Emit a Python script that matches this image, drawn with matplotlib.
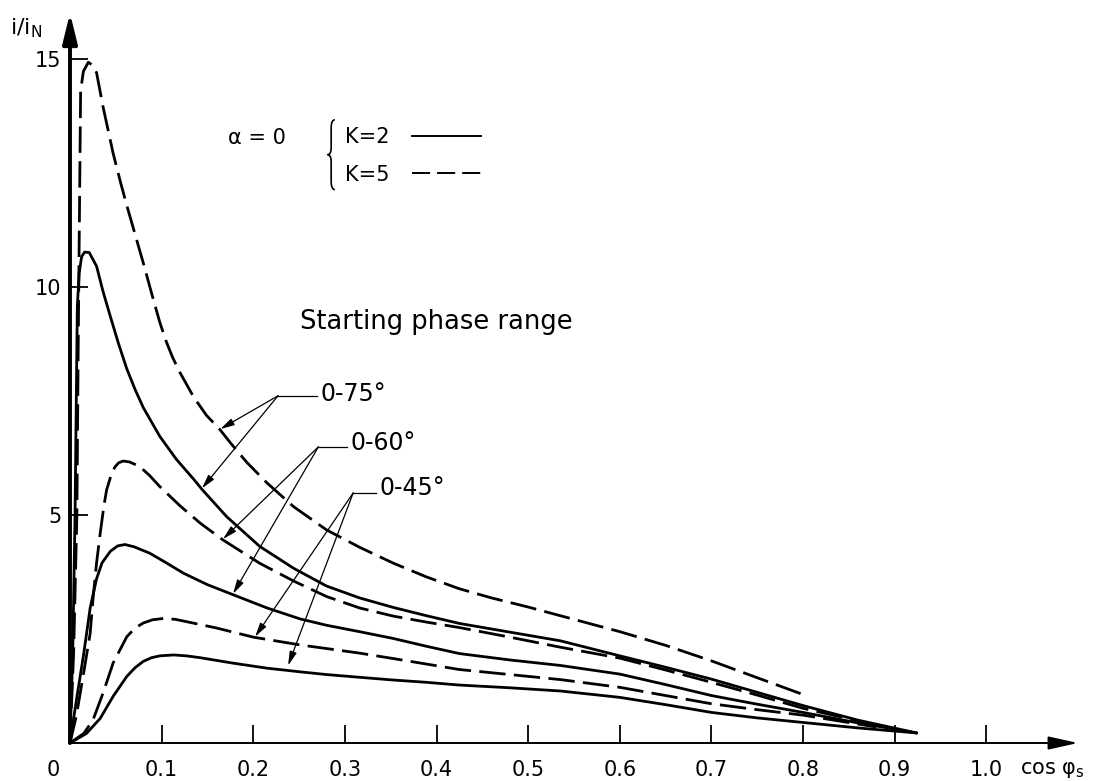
#Starting current vs cos phi for different starting phase ranges
import numpy as np
import matplotlib
matplotlib.use('Agg')
import matplotlib.pyplot as plt
from matplotlib.lines import Line2D
from matplotlib.path import Path
from matplotlib.patches import PathPatch

#curves, K=5 dashed, K=2 solid
x_k5_75 = [0, 0.004, 0.0075, 0.009, 0.0105, 0.0116, 0.0146, 0.020, 0.025, 0.029, 0.036, 0.047, 0.055, 0.062,
           0.071, 0.080, 0.089, 0.098, 0.105, 0.112, 0.120, 0.135, 0.149, 0.164, 0.175, 0.193, 0.215, 0.244,
           0.280, 0.316, 0.353, 0.389, 0.425, 0.460, 0.500, 0.535, 0.600, 0.650, 0.700, 0.750, 0.803]
y_k5_75 = [0, 2.0, 5.0, 8.8, 12.0, 14.3, 14.72, 14.92, 14.85, 14.69, 13.95, 12.93, 12.3, 11.78,
           11.15, 10.52, 9.86, 9.22, 8.80, 8.45, 8.12, 7.58, 7.18, 6.86, 6.58, 6.15, 5.70, 5.18,
           4.67, 4.29, 3.94, 3.64, 3.38, 3.18, 2.98, 2.79, 2.44, 2.14, 1.80, 1.43, 1.04]

x_k2_75 = [0, 0.003, 0.0055, 0.008, 0.010, 0.0127, 0.016, 0.021, 0.029, 0.036, 0.044, 0.053, 0.062, 0.071,
           0.080, 0.098, 0.116, 0.135, 0.144, 0.171, 0.207, 0.244, 0.280, 0.316, 0.353, 0.389, 0.425, 0.480,
           0.535, 0.600, 0.650, 0.700, 0.750, 0.800, 0.860, 0.924]
y_k2_75 = [0, 2.0, 5.0, 9.57, 10.3, 10.66, 10.76, 10.75, 10.45, 9.90, 9.35, 8.75, 8.20, 7.75,
           7.35, 6.72, 6.22, 5.78, 5.56, 4.96, 4.31, 3.83, 3.44, 3.18, 2.97, 2.79, 2.62, 2.43,
           2.24, 1.91, 1.66, 1.40, 1.11, 0.82, 0.50, 0.22]

x_k5_60 = [0, 0.007, 0.016, 0.022, 0.025, 0.029, 0.033, 0.037, 0.040, 0.045, 0.049, 0.053, 0.058, 0.065, 0.076,
           0.087, 0.098, 0.120, 0.142, 0.167, 0.207, 0.244, 0.280, 0.316, 0.353, 0.389, 0.425, 0.480, 0.535,
           0.600, 0.650, 0.700, 0.750, 0.800, 0.870]
y_k5_60 = [0, 0.6, 1.67, 2.4, 3.14, 3.95, 4.6, 5.2, 5.55, 5.88, 6.05, 6.14, 6.18, 6.16, 6.06,
           5.86, 5.62, 5.2, 4.82, 4.45, 3.94, 3.55, 3.21, 2.96, 2.78, 2.65, 2.53, 2.32, 2.10,
           1.86, 1.60, 1.33, 1.05, 0.76, 0.44]

x_k2_60 = [0, 0.007, 0.015, 0.022, 0.029, 0.035, 0.044, 0.052, 0.060, 0.070, 0.087, 0.105, 0.124, 0.150, 0.178,
           0.215, 0.251, 0.280, 0.316, 0.353, 0.389, 0.425, 0.480, 0.535, 0.600, 0.650, 0.700, 0.750, 0.800,
           0.860, 0.924]
y_k2_60 = [0, 0.94, 1.96, 2.96, 3.6, 3.95, 4.2, 4.32, 4.35, 4.30, 4.16, 3.95, 3.72, 3.47, 3.25,
           2.96, 2.72, 2.58, 2.44, 2.29, 2.12, 1.96, 1.82, 1.70, 1.51, 1.28, 1.04, 0.85, 0.67,
           0.44, 0.22]

x_k5_45 = [0, 0.015, 0.025, 0.036, 0.047, 0.062, 0.071, 0.080, 0.090, 0.102, 0.115, 0.127, 0.160, 0.200, 0.251,
           0.280, 0.316, 0.353, 0.389, 0.425, 0.480, 0.535, 0.600, 0.650, 0.700, 0.750, 0.800, 0.880]
y_k5_45 = [0, 0.21, 0.50, 1.09, 1.75, 2.33, 2.52, 2.63, 2.70, 2.73, 2.71, 2.66, 2.52, 2.32, 2.15,
           2.07, 1.97, 1.85, 1.73, 1.61, 1.50, 1.39, 1.22, 1.04, 0.86, 0.73, 0.61, 0.35]

x_k2_45 = [0, 0.018, 0.033, 0.047, 0.062, 0.071, 0.080, 0.089, 0.098, 0.113, 0.127, 0.142, 0.178, 0.215, 0.251,
           0.280, 0.316, 0.353, 0.389, 0.425, 0.480, 0.535, 0.600, 0.650, 0.700, 0.750, 0.800, 0.860, 0.924]
y_k2_45 = [0, 0.21, 0.54, 1.02, 1.46, 1.65, 1.79, 1.87, 1.91, 1.93, 1.91, 1.87, 1.75, 1.64, 1.56,
           1.50, 1.44, 1.38, 1.33, 1.27, 1.21, 1.14, 1.00, 0.84, 0.67, 0.55, 0.45, 0.33, 0.22]

xticks = [0.1, 0.2, 0.3, 0.4, 0.5, 0.6, 0.7, 0.8, 0.9, 1.0]
xticklabels = ['0.1', '0.2', '0.3', '0.4', '0.5', '0.6', '0.7', '0.8', '0.9', '1.0']
yticks = [5, 10, 15]

#phase range labels: label, leader start, text pos, arrow targets
ranges = ['0-75°', '0-60°', '0-45°']
nodes = [(0.227, 7.61), (0.271, 6.49), (0.309, 5.48)]
label_pos = [(0.273, 7.66), (0.306, 6.58), (0.338, 5.58)]
targets = [[(0.164, 6.88), (0.144, 5.58)],
           [(0.167, 4.47), (0.178, 3.27)],
           [(0.202, 2.33), (0.238, 1.70)]]

dash = (0, (9.5, 3))
fig = plt.figure(figsize=(11.01, 7.81), dpi=100)
ax = fig.add_axes([70/1101, 38/781, 1008/1101, 730/781])
ax.set_xlim(0, 1.1)
ax.set_ylim(0, 16.0)
for s in ax.spines.values():
    s.set_visible(False)

curves = [(x_k5_75, y_k5_75, dash), (x_k2_75, y_k2_75, '-'),
          (x_k5_60, y_k5_60, dash), (x_k2_60, y_k2_60, '-'),
          (x_k5_45, y_k5_45, dash), (x_k2_45, y_k2_45, '-')]
for xs, ys, ls in curves:
    ax.plot(xs, ys, color='k', lw=2.0, ls=ls, solid_joinstyle='round', solid_capstyle='round', clip_on=False)

#axes drawn as arrows
ax.annotate('', xy=(1.1, 0), xytext=(0, 0), annotation_clip=False,
            arrowprops=dict(arrowstyle='-|>,head_length=0.9,head_width=0.2', mutation_scale=20,
                            lw=1.4, color='k', shrinkA=0, shrinkB=0))
ax.annotate('', xy=(0, 16.0), xytext=(0, 0), annotation_clip=False,
            arrowprops=dict(arrowstyle='-|>,head_length=0.9,head_width=0.22', mutation_scale=20,
                            lw=2.8, color='k', shrinkA=0, shrinkB=0))

ax.set_xticks(xticks)
ax.set_xticklabels(xticklabels)
ax.set_yticks(yticks)
ax.tick_params(axis='x', direction='in', length=13, width=1.3, pad=12, labelsize=15)
ax.tick_params(axis='y', direction='in', length=13, width=1.3, pad=6, labelsize=15)
ax.annotate('0', xy=(0, 0), xytext=(-12, -12), textcoords='offset points', ha='center', va='top', fontsize=15)

fig.text(10/1101, 1 - 28/781, 'i/i$_\\mathregular{N}$', fontsize=16, va='center', ha='left')
fig.text(1020/1101, 1 - 770/781, 'cos φ$_\\mathregular{s}$', fontsize=15, va='center', ha='left')

#legend block
ax.text(0.172, 13.27, 'α = 0', fontsize=15, va='center', ha='left')
bx, by0, by1, bw = 0.281, 12.13, 13.66, 0.008
bm = (by0 + by1) / 2
bh = by1 - by0
verts = [(bx + bw, by1), (bx + bw/2, by1), (bx + bw/2, by1 - 0.12*bh), (bx + bw/2, bm + 0.1*bh),
         (bx + bw/2, bm), (bx, bm), (bx + bw/2, bm), (bx + bw/2, bm - 0.1*bh),
         (bx + bw/2, by0 + 0.12*bh), (bx + bw/2, by0), (bx + bw, by0)]
codes = [Path.MOVETO, Path.CURVE3, Path.CURVE3, Path.LINETO, Path.CURVE3, Path.CURVE3,
         Path.CURVE3, Path.CURVE3, Path.LINETO, Path.CURVE3, Path.CURVE3]
ax.add_patch(PathPatch(Path(verts, codes), fill=False, lw=1.2, color='k'))
handles = [Line2D([], [], color='k', lw=1.4, ls='-'), Line2D([], [], color='k', lw=1.4, ls=(0, (9.3, 3.6)))]
ax.legend(handles=handles, labels=['K=2', 'K=5'], markerfirst=False, frameon=False, fontsize=15,
          handlelength=3.3, handletextpad=1.1, labelspacing=0.85, borderpad=0, borderaxespad=0,
          loc='upper left', bbox_to_anchor=(0.300, 13.5), bbox_transform=ax.transData)

ax.text(0.251, 9.23, 'Starting phase range', fontsize=18.5, va='center', ha='left')

#phase range labels with leader lines and arrows
for lab, nd, lp, tg in zip(ranges, nodes, label_pos, targets):
    ax.text(lp[0], lp[1], lab, fontsize=17, va='center', ha='left')
    ax.plot([nd[0], lp[0] - 0.004], [nd[1], nd[1]], color='k', lw=0.9)
    for t in tg:
        ax.annotate('', xy=t, xytext=nd,
                    arrowprops=dict(arrowstyle='-|>,head_length=0.7,head_width=0.18', mutation_scale=12,
                                    lw=0.9, color='k', shrinkA=0, shrinkB=0))

fig.savefig('out.png', dpi=100)
